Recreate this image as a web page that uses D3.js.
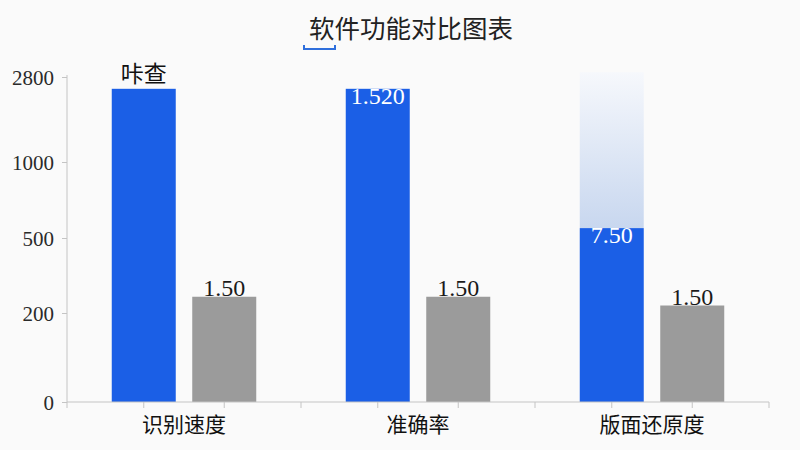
<!DOCTYPE html>
<html><head><meta charset="utf-8">
<script src="https://cdn.jsdelivr.net/npm/d3@7/dist/d3.min.js"></script>
<style>html,body{margin:0;padding:0;background:#fafafa;}svg{display:block;}</style>
</head><body>
<svg id="chart" width="800" height="450"></svg>
<script>
const title = "软件功能对比图表";
const categories = ["识别速度", "准确率", "版面还原度"];
const seriesKeys = ["blue", "gray"];
const blueValues = [2550, 2550, 565];
const grayValues = [265, 265, 230];
const ghostValues = [null, null, 2900];
const blueLabels = ["咔查", "1.520", "7.50"];
const grayLabels = ["1.50", "1.50", "1.50"];
const yTicks = [0, 200, 500, 1000, 2800];

const W = 800, H = 450;
const svg = d3.select("#chart");
svg.append("rect").attr("width", W).attr("height", H).attr("fill", "#fafafa");

const defs = svg.append("defs");
const grad = defs.append("linearGradient").attr("id", "ghost").attr("x1", 0).attr("y1", 0).attr("x2", 0).attr("y2", 1);
grad.append("stop").attr("offset", "0%").attr("stop-color", "#f6f8fc");
grad.append("stop").attr("offset", "100%").attr("stop-color", "#c8d7ef");

const sans = "'Noto Sans CJK SC','Noto Sans',sans-serif";
const serif = "'Liberation Serif','DejaVu Serif',serif";

const x0 = d3.scaleBand().domain(categories).range([67, 769]).padding(0);
const x1 = d3.scaleBand().domain(seriesKeys).range([0, x0.bandwidth()]).paddingInner(0.205).paddingOuter(0.556);
const y = d3.scaleLinear().domain(yTicks).range([402, 313, 238, 162, 77]);

// title
svg.append("text").attr("x", 411).attr("y", 38).attr("text-anchor", "middle")
  .attr("font-family", sans).attr("font-size", 25.5).attr("fill", "#222").text(title);
svg.append("path").attr("d", "M304,45 V49 H335 V45").attr("fill", "none")
  .attr("stroke", "#2f6fdc").attr("stroke-width", 2);

// y axis
const yAxis = d3.axisLeft(y).tickValues(yTicks).tickFormat(d3.format("d")).tickSize(5).tickPadding(8);
const gy = svg.append("g").attr("transform", "translate(67,0)").call(yAxis);
gy.select(".domain").attr("stroke", "#c4c4c4").attr("d", "M0,75V402");
gy.selectAll(".tick line").attr("stroke", "#c4c4c4");
gy.selectAll(".tick text").attr("font-family", serif).attr("font-size", 21).attr("fill", "#2a2a2a").attr("dy", "0.35em");

// bars
const groups = svg.append("g").selectAll("g").data(categories).join("g")
  .attr("transform", d => `translate(${x0(d)},0)`);

groups.each(function(c, i) {
  const g = d3.select(this);
  if (ghostValues[i] != null) {
    g.append("rect").attr("x", x1("blue")).attr("width", x1.bandwidth())
      .attr("y", y(ghostValues[i])).attr("height", y(blueValues[i]) - y(ghostValues[i]))
      .attr("fill", "url(#ghost)");
  }
  g.append("rect").attr("x", x1("blue")).attr("width", x1.bandwidth())
    .attr("y", y(blueValues[i])).attr("height", y(0) - y(blueValues[i])).attr("fill", "#1b5fe6");
  g.append("rect").attr("x", x1("gray")).attr("width", x1.bandwidth())
    .attr("y", y(grayValues[i])).attr("height", y(0) - y(grayValues[i])).attr("fill", "#9b9b9b");

  const lab = blueLabels[i];
  const numeric = !isNaN(+lab);
  g.append("text").attr("x", x1("blue") + x1.bandwidth() / 2)
    .attr("y", numeric ? y(blueValues[i]) + 15 : y(blueValues[i]) - 7)
    .attr("text-anchor", "middle")
    .attr("font-family", numeric ? serif : sans)
    .attr("font-size", numeric ? 24 : 23)
    .attr("fill", numeric ? "#ffffff" : "#111").text(lab);
  g.append("text").attr("x", x1("gray") + x1.bandwidth() / 2)
    .attr("y", y(grayValues[i]) - 1).attr("text-anchor", "middle")
    .attr("font-family", serif).attr("font-size", 24).attr("fill", "#1a1a1a").text(grayLabels[i]);
});

// x axis
const xa = svg.append("g");
xa.append("line").attr("x1", 67).attr("x2", 769).attr("y1", y(0)).attr("y2", y(0))
  .attr("stroke", "#c4c4c4");
const tickXs = [x0.range()[0]];
categories.forEach(c => {
  seriesKeys.forEach(k => tickXs.push(x0(c) + x1(k) + x1.bandwidth() / 2));
  tickXs.push(x0(c) + x0.bandwidth());
});
xa.selectAll("line.t").data(tickXs).join("line").attr("class", "t")
  .attr("x1", d => d).attr("x2", d => d).attr("y1", y(0)).attr("y2", y(0) + 6)
  .attr("stroke", "#c4c4c4");
xa.selectAll("text").data(categories).join("text")
  .attr("x", d => x0(d) + x0.bandwidth() / 2).attr("y", 432)
  .attr("text-anchor", "middle").attr("font-family", sans).attr("font-size", 21)
  .attr("fill", "#111").text(d => d);
</script>
</body></html>
